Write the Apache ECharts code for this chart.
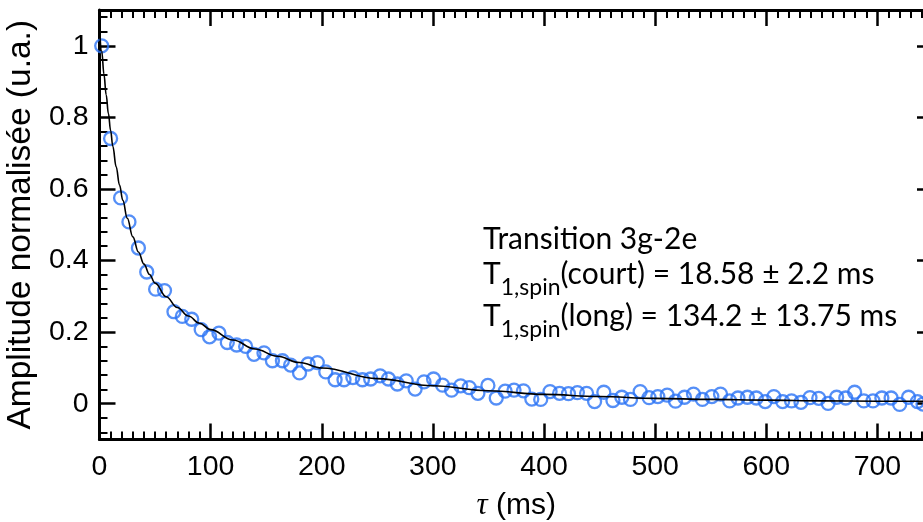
<!DOCTYPE html>
<html><head><meta charset="utf-8">
<script src="https://cdn.jsdelivr.net/npm/echarts@6/dist/echarts.min.js"></script>
<style>html,body{margin:0;padding:0;background:#fff}#c{width:923px;height:522px}</style>
</head><body><div id="c"></div>
<script>
// measured delays (ms)
const tauMs = [2,10,19,26.5,35,42.5,50.5,58.5,67,74.5,
  83,91.5,99,107.5,115,123.4,131.5,139,148,155.6,
  164.6,172,180,187.7,196,203.6,212,220,228,236.6,
  244,252.5,260,268,276,284,292,300.6,308.7,316.8,
  325,332.7,340.5,349.5,357,365,373,381.5,389,397,
  405.4,414,422,430,438.3,445.5,453.8,462,470,477.8,
  486.5,494.5,502.4,510.8,518.3,526.4,534.5,542.5,551,558.8,
  567,574.5,583,591,599,606.8,614.7,622.7,631.2,639.3,
  647.2,655.6,663.3,671.5,679.5,687.7,696,704,712.3,720,
  728,736,741];
// normalised amplitude (u.a.)
const amplitude = [1.0,0.741,0.575,0.508,0.435,0.368,0.320,0.316,0.257,0.244,
  0.236,0.207,0.187,0.197,0.171,0.164,0.160,0.138,0.142,0.120,
  0.120,0.108,0.086,0.111,0.115,0.089,0.067,0.067,0.073,0.067,
  0.069,0.078,0.069,0.055,0.064,0.041,0.061,0.069,0.052,0.038,
  0.050,0.045,0.029,0.051,0.016,0.035,0.038,0.036,0.013,0.012,
  0.034,0.029,0.028,0.031,0.029,0.006,0.032,0.009,0.018,0.012,
  0.034,0.017,0.020,0.024,0.007,0.018,0.027,0.012,0.020,0.027,
  0.008,0.016,0.018,0.016,0.006,0.020,0.006,0.008,0.004,0.017,
  0.015,0.001,0.018,0.016,0.032,0.008,0.008,0.016,0.016,-0.002,
  0.018,0.006,-0.001];
// fit curve
const fitTauMs = [0,2,4,6,8,10,12,15,18,21,25,30,35,40,45,50,60,70,80,90,100,120,140,160,180,200,250,300,350,400,450,500,550,600,650,700,750];
const fitAmplitude = [1.055,0.985,0.921,0.863,0.811,0.763,0.719,0.662,0.611,0.568,0.518,0.466,0.424,0.390,0.361,0.337,0.299,0.269,0.245,0.225,0.207,0.178,0.153,0.1325,0.115,0.0996,0.070,0.050,0.036,0.026,0.020,0.015,0.012,0.010,0.008,0.007,0.007];

const xRange = [0, 750];
const yRange = [-0.1, 1.1];
const annotationTitle = 'Transition 3g-2e';
const annotationShort = '(court) = 18.58 ± 2.2 ms';
const annotationLong = '(long) = 134.2 ± 13.75 ms';
const yAxisTitle = 'Amplitude normalisée (u.a.)';

const BLUE = '#2a73f5';
const FONT = 'Liberation Sans';

function mkX(pos, labels) {
  return {
    type: 'value', position: pos, min: xRange[0], max: xRange[1], interval: 100,
    axisLine: {show: true, onZero: false, lineStyle: {color: '#000', width: 3}},
    axisTick: {show: true, inside: true, length: 16, lineStyle: {color: '#000', width: 2.5}},
    minorTick: {show: true, splitNumber: 10, length: 8, lineStyle: {color: '#000', width: 2}},
    splitLine: {show: false},
    axisLabel: {show: labels, fontSize: 28.5, fontFamily: FONT, color: '#000', margin: 13, showMaxLabel: false},
    name: labels ? '{t|τ} (ms)' : '', nameLocation: 'middle', nameGap: 51,
    nameTextStyle: {fontSize: 30, fontFamily: FONT, color: '#000',
      rich: {t: {fontSize: 31, fontFamily: 'Liberation Serif', fontStyle: 'italic', color: '#000'}}}
  };
}
function mkY(pos, labels) {
  return {
    type: 'value', position: pos, min: yRange[0], max: yRange[1], splitNumber: 6,
    axisLine: {show: true, onZero: false, lineStyle: {color: '#000', width: 3}},
    axisTick: {show: true, inside: true, length: 16, lineStyle: {color: '#000', width: 2.5}},
    minorTick: {show: true, splitNumber: 5, length: 8, lineStyle: {color: '#000', width: 2}},
    splitLine: {show: false},
    axisLabel: {show: labels, fontSize: 28.5, fontFamily: FONT, color: '#000', margin: 11,
      showMinLabel: false, showMaxLabel: false},
    name: labels ? yAxisTitle : '', nameLocation: 'middle', nameGap: 53, nameRotate: 90,
    nameTextStyle: {fontSize: 33.5, fontFamily: FONT, color: '#000'}
  };
}

const chart = echarts.init(document.getElementById('c'), null, {renderer: 'canvas'});
const annFont = 'Lato';
const richAnn = {
  a: {fontSize: 30, fontFamily: annFont, color: '#000', lineHeight: 36, verticalAlign: 'top'},
  s: {fontSize: 23, fontFamily: annFont, color: '#000', lineHeight: 26, padding: [17, 0, 0, 0], verticalAlign: 'top'}
};
chart.setOption({
  animation: false,
  backgroundColor: '#fff',
  grid: {left: 99.5, right: -10, top: 10, bottom: 82.5, containLabel: false, outerBoundsMode: 'none'},
  xAxis: [mkX('bottom', true), mkX('top', false)],
  yAxis: [mkY('left', true), mkY('right', false)],
  series: [
    {type: 'scatter', xAxisIndex: 0, yAxisIndex: 0, symbol: 'circle', symbolSize: 13,
      itemStyle: {color: 'rgba(0,0,0,0)', borderColor: BLUE, borderWidth: 2.3},
      data: tauMs.map((t, i) => [t, amplitude[i]]), z: 2},
    {type: 'line', xAxisIndex: 0, yAxisIndex: 0, showSymbol: false, smooth: 0.4, smoothMonotone: 'x',
      lineStyle: {color: '#000', width: 1.6},
      data: fitTauMs.map((t, i) => [t, fitAmplitude[i]]), z: 3}
  ],
  graphic: [
    {type: 'text', left: 483, top: 224, style: {text: annotationTitle, font: '30px ' + annFont, fill: '#000'}},
    {type: 'text', left: 483, top: 259, style: {text: '{a|T}{s|1,spin}{a|' + annotationShort + '}', rich: richAnn}},
    {type: 'text', left: 483, top: 301, style: {text: '{a|T}{s|1,spin}{a|' + annotationLong + '}', rich: richAnn}}
  ]
});
</script></body></html>
